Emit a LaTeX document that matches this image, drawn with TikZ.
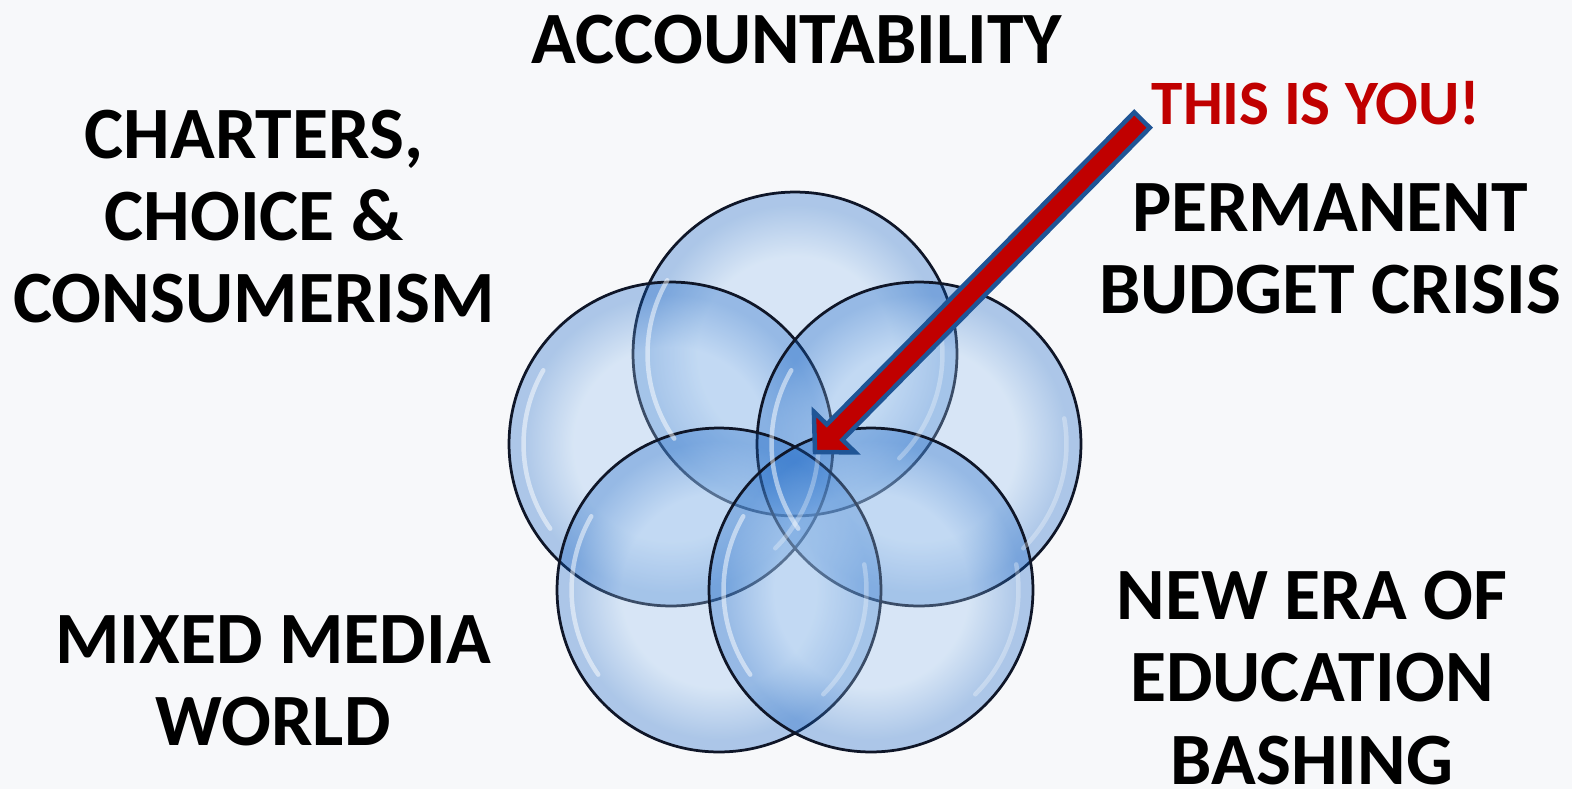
\documentclass[tikz,border=0pt]{standalone}
\usepackage{fontspec}
\setmainfont{Carlito}
\usepackage{tikz}
\usetikzlibrary{positioning}
\usetikzlibrary{calc}

\definecolor{paper}{RGB}{247,248,250}
\definecolor{youred}{RGB}{192,0,0}
\definecolor{arrowblue}{RGB}{31,85,150}
\definecolor{bubblein}{RGB}{150,192,238}
\definecolor{bubbleout}{RGB}{15,95,195}
\definecolor{rim}{RGB}{15,22,40}

\pgfdeclareradialshading{bubble}{\pgfpoint{0bp}{0bp}}{%
  color(0bp)=(bubblein); color(15bp)=(bubblein);
  color(23bp)=(bubbleout); color(25bp)=(bubbleout); color(50bp)=(bubbleout)}

\tikzset{
  topic/.style={font=\bfseries\fontsize{42}{46.7}\selectfont, align=center, inner sep=0pt},
  bubblebox/.style={circle, minimum size=6.48cm, inner sep=0pt, outer sep=0pt,
    draw=rim, line width=0.055cm, shade, shading=bubble, fill opacity=0.32},
  gloss/.style={white, line width=0.09cm, line cap=round, opacity=0.5},
}

\begin{document}
\begin{tikzpicture}[x=0.02cm, y=-0.02cm]
    \fill[paper] (0,0) rectangle (1572,789);
    \useasboundingbox (0,0) rectangle (1572,789);

    % five overlapping bubbles
    \node[bubblebox] (btop) at (795,354) {};
    \node[bubblebox] (bleft) at (671,444) {};
    \node[bubblebox] (bright) at (919,444) {};
    \node[bubblebox] (blowl) at (719,590) {};
    \node[bubblebox] (blowr) at (871,590) {};
    \foreach \b in {btop,bleft,bright,blowl,blowr} {
        \draw[gloss] (\b.center) ++(150:2.95cm) arc[start angle=150, end angle=215, radius=2.95cm];
        \draw[gloss, opacity=0.3] (\b.center) ++(-45:2.95cm) arc[start angle=-45, end angle=10, radius=2.95cm];
    }

    % labels
    \node[topic] (acc) at (797,40) {ACCOUNTABILITY};
    \node[topic] (cha) at (254,217) {CHARTERS,\\CHOICE \&\\CONSUMERISM};
    \node[topic] (bud) at (1330,249) {PERMANENT\\BUDGET CRISIS};
    \node[topic] (med) at (273,681) {MIXED MEDIA\\WORLD};
    \node[topic] (era) at (1312,678) {NEW ERA OF\\EDUCATION\\BASHING};
    \node[topic, font=\bfseries\fontsize{36}{40}\selectfont, text=youred] (you) at (1316,103) {THIS IS YOU!};

    % the arrow
    \coordinate (youtail) at (1142,120);
    \coordinate (youtip) at (815,452);
    \filldraw[fill=youred, draw=arrowblue, line width=0.09cm, line join=miter]
        (youtip) -- (855.3,452.4) -- (842.4,439.8) -- (1149.8,127.7)
        -- (1134.2,112.3) -- (826.8,424.4) -- (813.9,411.8) -- cycle;
\end{tikzpicture}
\end{document}
